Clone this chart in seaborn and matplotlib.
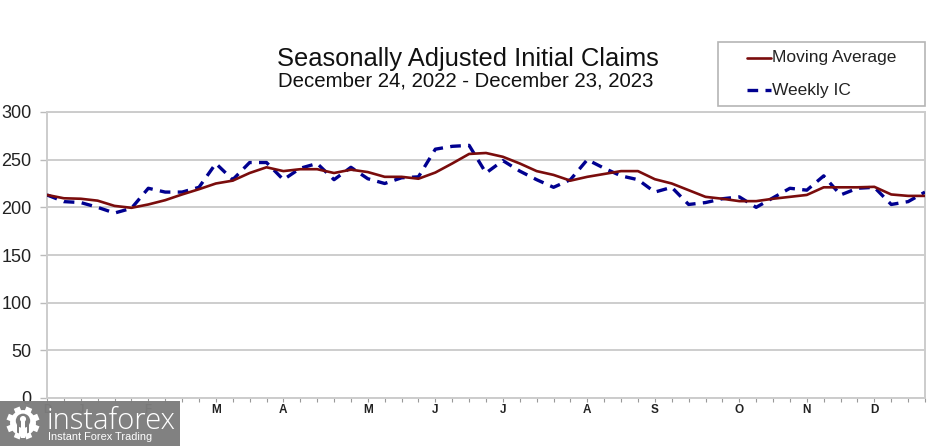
import matplotlib
matplotlib.use("Agg")
import matplotlib.pyplot as plt
from matplotlib.patches import Rectangle, Circle
import numpy as np
import pandas as pd
import seaborn as sns

weekly = [213,206,205,200,194,199,220,216,216,221,246,229,247,247,229,241,246,229,242,230,225,231,232,261,264,265,
          236,249,238,229,221,229,250,241,233,229,216,221,203,205,209,211,200,210,220,218,233,213,220,221,203,206,216]
moving = [213,209.5,209,207,201.5,199.5,203,207.5,213.5,219,225,228,236,242,238,240,240,236,239.5,237,232,232,230,236.5,246,256,
          257,253,246,238,234,228,232,235,238,238,229.5,225,218,211,209,206.5,206.5,209,211,213,221,221,221,221.5,213.5,212,212]
month_labels = ["D","J","F","M","A","M","J","J","A","S","O","N","D"]
month_weeks = [0,2,6,10,14,19,23,27,32,36,41,45,49]
y_ticks = [0,50,100,150,200,250,300]

sns.set_theme(style="white")
plt.rcParams["font.family"] = ["Liberation Sans", "DejaVu Sans"]
W, H = 931, 446
fig = plt.figure(figsize=(W/100, H/100), dpi=100, facecolor="white")
ax = fig.add_axes([47/W, 1-398/H, (925-47)/W, (398-112)/H])

dash = (0, (3.2, 2.2))
df = pd.DataFrame({"week": np.arange(len(weekly)), "Weekly IC": weekly, "Moving Average": moving})
sns.lineplot(data=df, x="week", y="Weekly IC", ax=ax, color="#000090", lw=2.4, label="Weekly IC",
             linestyle=dash, zorder=3, legend=False)
sns.lineplot(data=df, x="week", y="Moving Average", ax=ax, color="#7a0c0c", lw=1.9, label="Moving Average",
             zorder=4, legend=False)

ax.set_xlim(0, len(weekly)-1)
ax.set_ylim(0, 300)
ax.set_xlabel(""); ax.set_ylabel("")
ax.set_yticks(y_ticks)
ax.set_xticks(np.arange(len(weekly)))
ax.set_xticklabels([month_labels[month_weeks.index(i)] if i in month_weeks else "" for i in range(len(weekly))],
                   fontsize=8.5, color="#222222", fontweight="bold")
ax.tick_params(axis="x", length=3, width=0.8, color="#999999", pad=1, bottom=True)
ax.tick_params(axis="y", length=5, width=1, color="#bbbbbb", labelsize=13, labelcolor="#222222", pad=6, left=True)
ax.grid(axis="y", color="#c0c0c0", lw=1.1)
ax.set_axisbelow(True)
for s in ax.spines.values():
    s.set_color("#cccccc"); s.set_linewidth(1.4); s.set_visible(True)

fig.text(468/W, 1-59/H, "Seasonally Adjusted Initial Claims", ha="center", va="center", fontsize=18.4, color="#111111")
fig.text(466/W, 1-81/H, "December 24, 2022 - December 23, 2023", ha="center", va="center", fontsize=14.7, color="#111111")

# legend box
fig.add_artist(Rectangle((718/W, 1-106/H), 207/W, 64/H, transform=fig.transFigure, fc="white", ec="#b5b5b5", lw=1.2))
fig.add_artist(plt.Line2D([747/W, 771/W], [1-58/H]*2, color="#7a0c0c", lw=1.9))
fig.add_artist(plt.Line2D([747/W, 771/W], [1-90/H]*2, color="#000090", lw=2.4, linestyle=dash))
fig.text(772/W, 1-58/H, "Moving Average", va="center", fontsize=12.5, color="#222222")
fig.text(772/W, 1-90/H, "Weekly IC", va="center", fontsize=12.5, color="#222222")

# watermark
fig.add_artist(Rectangle((0, 0), 180/W, 45/H, transform=fig.transFigure, fc="#7d7d7d", ec="none", alpha=0.97, zorder=10))
logo = fig.add_axes([5/W, 1-441/H, 36/W, 36/H], zorder=11)
logo.set_xlim(-1, 1); logo.set_ylim(-1, 1); logo.axis("off"); logo.patch.set_alpha(0)
for a in np.deg2rad(np.arange(0, 360, 45) + 22.5):
    logo.plot([0.62*np.cos(a), 0.92*np.cos(a)], [0.62*np.sin(a), 0.92*np.sin(a)], color="white", lw=4.5, solid_capstyle="butt")
logo.add_patch(Circle((0, 0), 0.72, fc="white", ec="none"))
logo.add_patch(Circle((0, 0.12), 0.40, fc="#7d7d7d", ec="none"))
logo.add_patch(Circle((0, 0.22), 0.17, fc="white", ec="none"))
logo.add_patch(Rectangle((-0.09, -0.85), 0.18, 1.0, fc="white", ec="none"))
logo.add_patch(Rectangle((-0.35, -0.85), 0.14, 0.85, fc="#7d7d7d", ec="none"))
logo.add_patch(Rectangle((0.21, -0.85), 0.14, 0.85, fc="#7d7d7d", ec="none"))
fig.text(47/W, 1-421/H, "instaforex", va="center", fontsize=21, color="white", zorder=12, fontfamily="Open Sans", fontweight="light")
fig.text(48/W, 1-437/H, "Instant Forex Trading", va="center", fontsize=7.9, color="white", zorder=12)

fig.savefig("out.png", dpi=100)
